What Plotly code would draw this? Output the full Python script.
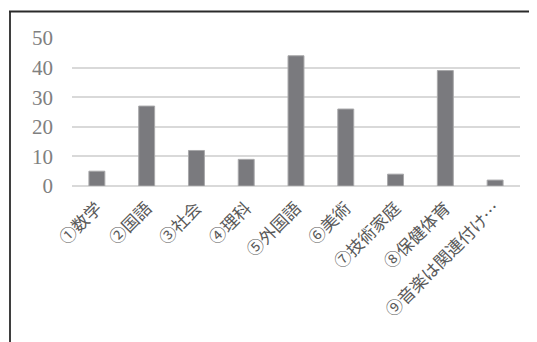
import plotly.graph_objects as go

categories = ["①数学", "②国語", "③社会", "④理科", "⑤外国語", "⑥美術", "⑦技術家庭", "⑧保健体育", "⑨音楽は関連付け…"]
values = [5, 27, 12, 9, 44, 26, 4, 39, 2]
y_ticks = [0, 10, 20, 30, 40, 50]

# page body has an 8px default margin; figure coordinates compensate for it
OFF = 8
W, H = 537 - OFF, 342 - OFF
L, T = 72 - OFF, 38 - OFF
R = W - (520 - OFF)
B = H - (186 - OFF)
pw, ph = W - L - R, H - T - B

def px_x(x):
    return (x - OFF - L) / pw

def px_y(y):
    return (H - B - (y - OFF)) / ph

fig = go.Figure(go.Bar(
    x=categories, y=values,
    marker=dict(color="#7a7a7e", line=dict(color="#a8a8aa", width=1)),
    hoverinfo="skip",
))

fig.update_layout(
    width=W, height=H,
    margin=dict(l=L, r=R, t=T, b=B),
    paper_bgcolor="white", plot_bgcolor="white",
    bargap=0.68,
    showlegend=False,
    shapes=[
        dict(type="line", xref="paper", yref="paper",
             x0=px_x(9), x1=px_x(560), y0=px_y(11.5), y1=px_y(11.5),
             line=dict(color="#2a2a2a", width=1.8)),
        dict(type="line", xref="paper", yref="paper",
             x0=px_x(10), x1=px_x(10), y0=px_y(11.5), y1=px_y(360),
             line=dict(color="#2a2a2a", width=1.8)),
    ],
)
fig.update_xaxes(
    tickangle=-45, automargin=False, showgrid=False, showline=False, ticks="",
    ticklabelstandoff=8,
    tickfont=dict(family="Noto Sans CJK JP", size=17, color="#595959"),
)
fig.update_yaxes(
    range=[0, 50], tickvals=y_ticks, automargin=False,
    showgrid=True, gridcolor="#d9d9d9", gridwidth=1.5,
    zeroline=True, zerolinecolor="#d9d9d9", zerolinewidth=1.5,
    showline=False, ticks="", ticklabelstandoff=18,
    tickfont=dict(family="Liberation Serif", size=21, color="#808080"),
)

fig.write_html("out.html", config={"displayModeBar": False})
